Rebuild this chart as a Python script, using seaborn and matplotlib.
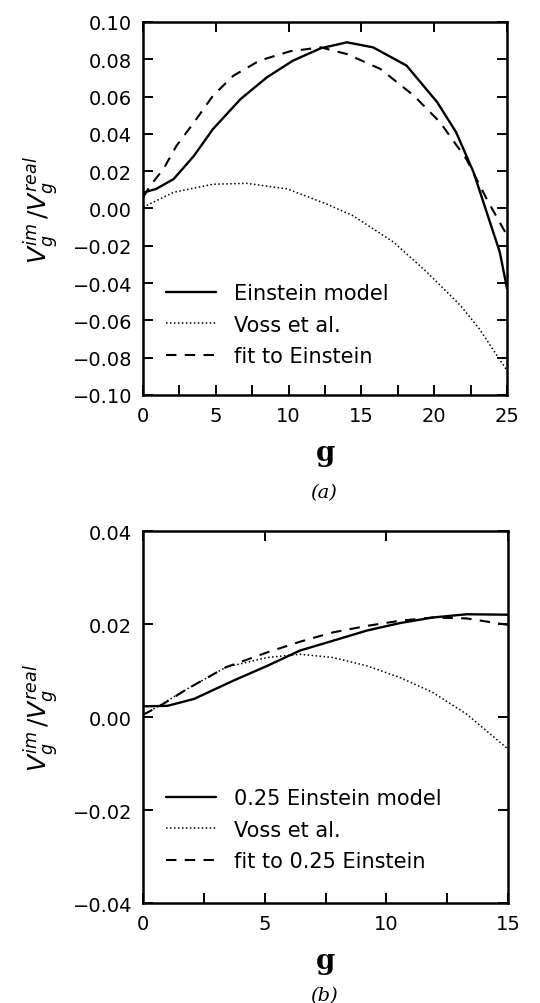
import numpy as np
import pandas as pd
import seaborn as sns
import matplotlib
matplotlib.use("Agg")
import matplotlib.pyplot as plt
from matplotlib.ticker import MultipleLocator

# Panel (a) data
g_ein_a = [0, 0.9, 2.1, 3.5, 4.8, 6.7, 8.5, 10.3, 12.2, 14.0, 15.8, 18.1, 20.2, 21.5, 22.7, 23.6, 24.5, 25]
v_ein_a = [0.0085, 0.0105, 0.0158, 0.0283, 0.0426, 0.0587, 0.0703, 0.0793, 0.0859, 0.0891, 0.0864,
           0.0766, 0.057, 0.0409, 0.0194, -0.002, -0.0234, -0.043]
g_voss_a = [0, 2.1, 4.8, 7.1, 9.9, 12.6, 14.4, 17.2, 19.5, 21.8, 23.1, 25]
v_voss_a = [0.0007, 0.0087, 0.013, 0.0135, 0.0105, 0.0024, -0.0038, -0.018, -0.0342, -0.052, -0.0646, -0.087]
g_fit_a = [0, 0.5, 1.4, 2.3, 3.5, 4.8, 6.2, 8.0, 10.1, 12.2, 14.0, 16.3, 18.6, 20.4, 22.2, 23.6, 25]
v_fit_a = [0.006, 0.0123, 0.0212, 0.0337, 0.0462, 0.0605, 0.0712, 0.0793, 0.0843, 0.0864, 0.0828,
           0.0748, 0.0605, 0.0462, 0.0266, 0.0051, -0.0145]

# Panel (b) data
g_ein_b = [0, 1.0, 2.1, 3.7, 5.1, 6.45, 7.8, 9.2, 10.55, 11.9, 13.3, 15]
v_ein_b = [0.0023, 0.0024, 0.0039, 0.0078, 0.011, 0.0143, 0.0164, 0.0186, 0.0202, 0.0214, 0.0221, 0.022]
g_voss_b = [0, 1.8, 3.4, 5.1, 6.45, 7.8, 9.2, 10.55, 11.9, 13.3, 15]
v_voss_b = [0.0004, 0.006, 0.0107, 0.0128, 0.0135, 0.0128, 0.011, 0.0085, 0.0053, 0.0006, -0.0069]
g_fit_b = [0, 0.7, 1.8, 3.4, 5.1, 6.45, 7.8, 9.2, 10.55, 11.9, 13.3, 15]
v_fit_b = [0.0005, 0.0024, 0.006, 0.0107, 0.0139, 0.0162, 0.0182, 0.0196, 0.0207, 0.0214, 0.0212, 0.0198]

labels_a = ["Einstein model", "Voss et al.", "fit to Einstein"]
labels_b = ["0.25 Einstein model", "Voss et al.", "fit to 0.25 Einstein"]

sns.set_theme(style="ticks")
plt.rcParams["font.family"] = ["DejaVu Sans"]
plt.rcParams["mathtext.fontset"] = "dejavusans"
for k in ["text.color", "axes.labelcolor", "xtick.color", "ytick.color", "axes.edgecolor"]:
    plt.rcParams[k] = "black"

fig = plt.figure(figsize=(5.4, 10.04), dpi=100)
ax_a = fig.add_axes([0.265, 0.6056, 0.674, 0.3715])
ax_b = fig.add_axes([0.265, 0.0996, 0.676, 0.3705])

styles = [dict(linestyle="-", linewidth=1.7),
          dict(linestyle=(0, (1, 1.6)), linewidth=1.1),
          dict(linestyle=(0, (5, 4)), linewidth=1.5)]


def draw(ax, series, labels):
    for (g, v), lab, st in zip(series, labels, styles):
        df = pd.DataFrame({"g": g, "v": v})
        sns.lineplot(data=df, x="g", y="v", ax=ax, color="black", label=lab, **st)


def fmt(y, p):
    y = round(y, 6)
    if abs(y) < 1e-9:
        y = 0.0
    return f"{y:.2f}".replace("-", "\u2212")


draw(ax_a, [(g_ein_a, v_ein_a), (g_voss_a, v_voss_a), (g_fit_a, v_fit_a)], labels_a)
draw(ax_b, [(g_ein_b, v_ein_b), (g_voss_b, v_voss_b), (g_fit_b, v_fit_b)], labels_b)

ax_a.set_xlim(0, 25)
ax_a.set_ylim(-0.10, 0.10)
ax_b.set_xlim(0, 15)
ax_b.set_ylim(-0.04, 0.04)

for ax in (ax_a, ax_b):
    ax.xaxis.set_major_locator(MultipleLocator(5))
    ax.xaxis.set_minor_locator(MultipleLocator(2.5))
    ax.yaxis.set_major_locator(MultipleLocator(0.02))
    ax.yaxis.set_major_formatter(fmt)
    for s in ax.spines.values():
        s.set_linewidth(1.8)
        s.set_color("black")
    ax.tick_params(which="both", direction="in", top=True, right=True,
                   length=7, width=1.4, labelsize=14, pad=8, colors="black")
    ax.tick_params(which="minor", top=False, length=7)
    ax.set_xlabel("g", fontsize=20, family="serif", fontweight="bold", labelpad=10)
    ax.set_ylabel(r"$V_{g}^{im}\,/V_{g}^{real}$", fontsize=18, labelpad=8)

ax_a.legend(loc="lower left", bbox_to_anchor=(0.04, 0.055), frameon=False,
            fontsize=15, handlelength=2.4, handletextpad=0.85, labelspacing=0.55,
            borderaxespad=0)
ax_b.legend(loc="lower left", bbox_to_anchor=(0.04, 0.063), frameon=False,
            fontsize=15, handlelength=2.4, handletextpad=0.85, labelspacing=0.55,
            borderaxespad=0)

fig.text(0.6, 1 - 493 / 1004, "(a)", ha="center", va="center",
         fontsize=14, family="serif", style="italic")
fig.text(0.6, 1 - 996 / 1004, "(b)", ha="center", va="center",
         fontsize=14, family="serif", style="italic")

fig.savefig("out.png", dpi=100)
